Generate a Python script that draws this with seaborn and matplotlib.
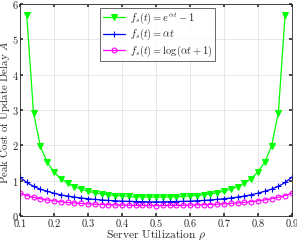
import matplotlib
matplotlib.use("Agg")
import matplotlib.pyplot as plt
import numpy as np
import pandas as pd
import seaborn as sns

# server utilization grid
rho = [0.10, 0.12, 0.14, 0.16, 0.18, 0.20, 0.22, 0.24, 0.26, 0.28, 0.30,
       0.32, 0.34, 0.36, 0.38, 0.40, 0.42, 0.44, 0.46, 0.48, 0.50,
       0.52, 0.54, 0.56, 0.58, 0.60, 0.62, 0.64, 0.66, 0.68, 0.70,
       0.72, 0.74, 0.76, 0.78, 0.80, 0.82, 0.84, 0.86, 0.88, 0.90]

# exponential cost (off the chart at 0.1 and 0.9)
cost_exp = [None, 5.70, 2.92, 1.98, 1.52, 1.25, 1.06, 0.93, 0.83, 0.76, 0.70,
            0.66, 0.62, 0.60, 0.58, 0.565, 0.555, 0.545, 0.54, 0.535, 0.533,
            0.535, 0.54, 0.545, 0.555, 0.565, 0.58, 0.60, 0.62, 0.66, 0.70,
            0.76, 0.83, 0.93, 1.06, 1.25, 1.52, 1.98, 2.92, 5.70, None]
cost_lin = [1.10, 0.95, 0.84, 0.76, 0.70, 0.645, 0.60, 0.565, 0.535, 0.51, 0.49,
            0.47, 0.455, 0.44, 0.43, 0.42, 0.415, 0.41, 0.405, 0.40, 0.40,
            0.40, 0.405, 0.41, 0.415, 0.42, 0.43, 0.44, 0.455, 0.47, 0.49,
            0.51, 0.535, 0.565, 0.60, 0.645, 0.70, 0.76, 0.84, 0.95, 1.10]
cost_log = [0.65, 0.58, 0.53, 0.49, 0.455, 0.43, 0.405, 0.385, 0.37, 0.355, 0.345,
            0.335, 0.325, 0.32, 0.315, 0.31, 0.305, 0.30, 0.30, 0.298, 0.297,
            0.298, 0.30, 0.30, 0.305, 0.31, 0.315, 0.32, 0.325, 0.335, 0.345,
            0.355, 0.37, 0.385, 0.405, 0.43, 0.455, 0.49, 0.53, 0.58, 0.65]

labels = [r"$f_s(t) = e^{\alpha t}-1$", r"$f_s(t) = \alpha t$",
          r"$f_s(t) = \log(\alpha t+1)$"]

sns.set_theme(style="whitegrid")
plt.rcParams.update({
    "font.family": ["cmr10", "DejaVu Serif"],
    "mathtext.fontset": "cm",
    "axes.unicode_minus": False,
    "axes.formatter.use_mathtext": True,
    "font.size": 7.5,
})

df = pd.DataFrame({"rho": rho, "exp": cost_exp, "lin": cost_lin, "log": cost_log})
df["exp"] = df["exp"].astype(float)

fig = plt.figure(figsize=(2.97, 2.40), dpi=100)
ax = fig.add_axes([0.067, 0.10, 0.916, 0.883])

sns.lineplot(data=df, x="rho", y="exp", ax=ax, color=(0, 1, 0), lw=0.9,
             marker="v", markersize=4, markeredgecolor=(0, 1, 0),
             markerfacecolor=(0, 1, 0), label=labels[0])
sns.lineplot(data=df, x="rho", y="lin", ax=ax, color=(0, 0, 1), lw=0.9,
             marker="+", markersize=4, markeredgewidth=0.8,
             markeredgecolor=(0, 0, 1), label=labels[1])
sns.lineplot(data=df, x="rho", y="log", ax=ax, color=(1, 0, 1), lw=0.9,
             marker="o", markersize=3.5, markeredgewidth=0.8,
             markeredgecolor=(1, 0, 1), markerfacecolor="none", label=labels[2])

ax.set_xlim(0.1, 0.9)
ax.set_ylim(0, 6)
ax.set_xticks(np.arange(0.1, 0.91, 0.1))
ax.set_xticklabels(["0.1", "0.2", "0.3", "0.4", "0.5", "0.6", "0.7", "0.8", "0.9"])
ax.set_yticks(range(7))
ax.set_xlabel(r"Server Utilization $\rho$", fontsize=8.3)
ax.set_ylabel(r"Peak Cost of Update Delay $A$", fontsize=7.8)
ax.xaxis.set_label_coords(0.5, -0.058)
ax.yaxis.set_label_coords(-0.028, 0.49)
ax.tick_params(labelsize=7.5, pad=2.5, direction="in", length=2.5,
               bottom=True, left=True, top=True, right=True, color="#333333")
ax.tick_params(axis="y", pad=1.0)
ax.grid(True, color="#e3e3e3", lw=0.6)
for s in ax.spines.values():
    s.set_color("#262626")
    s.set_linewidth(0.6)

leg = ax.legend(loc="upper center", bbox_to_anchor=(0.505, 0.99), fontsize=7.5,
                frameon=True, fancybox=False, borderpad=0.25, labelspacing=0.1,
                handlelength=2.2, handletextpad=0.4, borderaxespad=0.2)
leg.get_frame().set_edgecolor("#262626")
leg.get_frame().set_linewidth(0.6)

fig.savefig("out.png", dpi=100)
